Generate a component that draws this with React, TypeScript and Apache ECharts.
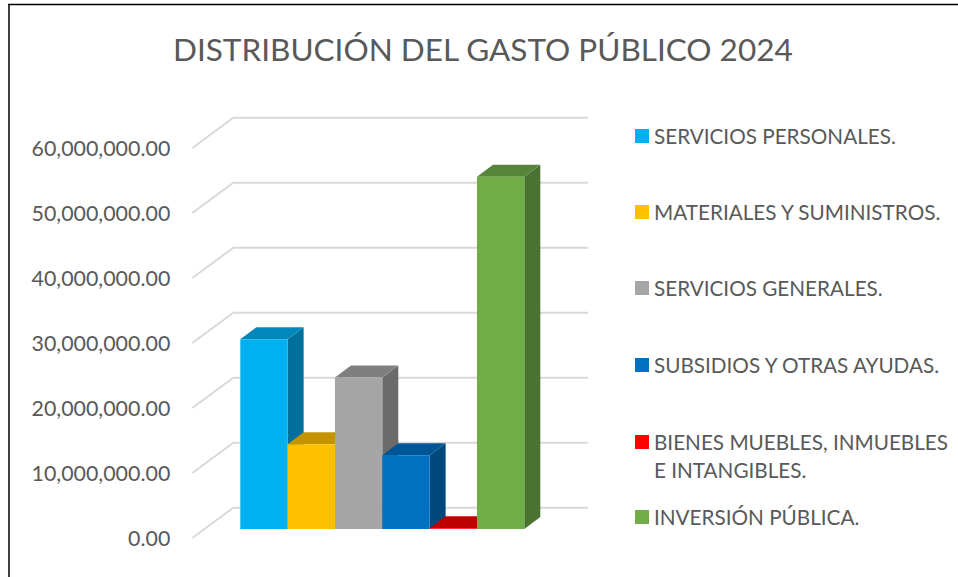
import React, { useEffect, useRef } from "react";
import * as echarts from "echarts";

const TITLE = "DISTRIBUCIÓN DEL GASTO PÚBLICO 2024";
const categories = [
  "SERVICIOS PERSONALES.",
  "MATERIALES Y SUMINISTROS.",
  "SERVICIOS GENERALES.",
  "SUBSIDIOS Y OTRAS AYUDAS.",
  "BIENES MUEBLES, INMUEBLES\nE INTANGIBLES.",
  "INVERSIÓN PÚBLICA.",
];
const values = [29180000, 13030000, 23300000, 11330000, 100000, 54200000];
const tickValues = [0, 10000000, 20000000, 30000000, 40000000, 50000000, 60000000];
const frontColors = ["#00B0F0", "#FFC000", "#A5A5A5", "#0070C0", "#FF0000", "#70AD47"];
const topColors = ["#0088BA", "#C49400", "#7F7F7F", "#005694", "#C00000", "#56853A"];
const sideColors = ["#006F9C", "#A67D00", "#6B6B6B", "#00497D", "#A00000", "#4A7230"];
const legendTops = [122, 198, 274, 351, 428, 503];

const FONT = "Lato";
const TEXT = "#595959";
const DEPTH_X = 16;
const DEPTH_Y = 12;
const BASE_SHIFT = 9;

export default function App() {
  const ref = useRef<HTMLDivElement>(null);
  useEffect(() => {
    const chart = echarts.init(ref.current!, null, { renderer: "svg" });
    const gridSeries = {
      type: "custom",
      name: "grid",
      silent: true,
      data: tickValues.map((v) => [0, v]),
      encode: { x: 0, y: 1 },
      renderItem: (params: any, api: any) => {
        const y = api.coord([0, api.value(1)])[1];
        const x0 = params.coordSys.x;
        return {
          type: "polyline",
          shape: {
            points: [
              [x0 - 48, y],
              [x0 - 7, y - 30.3],
              [x0 + 348, y - 30.3],
            ],
          },
          style: { fill: "none", stroke: "#D9D9D9", lineWidth: 2 },
        };
      },
    };
    const barSeries = categories.map((name, i) => ({
      type: "custom",
      name,
      silent: true,
      itemStyle: { color: frontColors[i] },
      data: [[i, values[i]]],
      encode: { x: 0, y: 1 },
      renderItem: (_: any, api: any) => {
        const c = api.value(0);
        const top = api.coord([c, api.value(1)]);
        const bottom = api.coord([c, 0]);
        const w = api.size([1, 0])[0];
        const xl = top[0] - w / 2;
        const xr = top[0] + w / 2;
        const yt = top[1] - BASE_SHIFT;
        const yb = bottom[1] - BASE_SHIFT;
        return {
          type: "group",
          children: [
            {
              type: "polygon",
              shape: { points: [[xr, yt], [xr + DEPTH_X, yt - DEPTH_Y], [xr + DEPTH_X, yb - DEPTH_Y], [xr, yb]] },
              style: { fill: sideColors[i] },
            },
            {
              type: "polygon",
              shape: { points: [[xl, yt], [xl + DEPTH_X, yt - DEPTH_Y], [xr + DEPTH_X, yt - DEPTH_Y], [xr, yt]] },
              style: { fill: topColors[i] },
            },
            {
              type: "rect",
              shape: { x: xl, y: yt, width: w, height: yb - yt },
              style: { fill: frontColors[i] },
            },
          ],
        };
      },
    }));
    chart.setOption({
      animation: false,
      backgroundColor: "#FFFFFF",
      title: {
        text: TITLE,
        left: 173,
        top: 33,
        padding: 0,
        textStyle: { fontFamily: FONT, fontSize: 31.5, fontWeight: "normal", color: TEXT },
      },
      legend: categories.map((name, i) => ({
        data: [name],
        orient: "vertical",
        left: 635,
        top: legendTops[i],
        padding: 0,
        selectedMode: false,
        itemWidth: 14,
        itemHeight: i === 4 ? 42 : 14,
        icon: i === 4 ? "path://M0 0H14V14H0ZM0 42H14V42H0Z" : "rect",
        textStyle: { fontFamily: FONT, fontSize: 20.7, color: TEXT, lineHeight: 28 },
      })),
      grid: { left: 240.3, top: 148, width: 284, height: 390 },
      xAxis: {
        type: "category",
        data: categories,
        axisLine: { show: false },
        axisTick: { show: false },
        axisLabel: { show: false },
      },
      yAxis: {
        type: "value",
        min: 0,
        max: 60000000,
        interval: 10000000,
        axisLine: { show: false },
        axisTick: { show: false },
        splitLine: { show: false },
        axisLabel: {
          margin: 70,
          fontFamily: FONT,
          fontSize: 21.4,
          color: TEXT,
          formatter: (v: number) =>
            v.toLocaleString("en-US", { minimumFractionDigits: 2, maximumFractionDigits: 2 }),
        },
      },
      graphic: [
        { type: "line", shape: { x1: 9, y1: 4, x2: 9, y2: 577 }, style: { stroke: "#000", lineWidth: 1.5 } },
        { type: "line", shape: { x1: 8, y1: 4.5, x2: 958, y2: 4.5 }, style: { stroke: "#000", lineWidth: 1.5 } },
      ],
      series: [gridSeries, ...barSeries],
    });
    return () => chart.dispose();
  }, []);
  return <div ref={ref} style={{ position: "fixed", left: 0, top: 0, width: 958, height: 577 }} />;
}
